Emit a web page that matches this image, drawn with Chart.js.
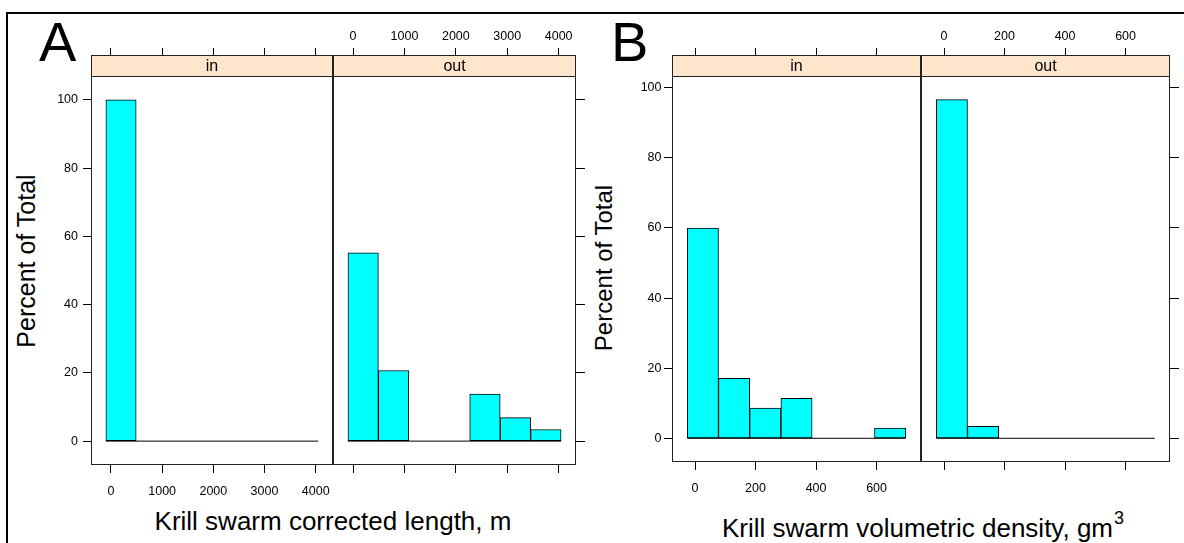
<!DOCTYPE html>
<html>
<head>
<meta charset="utf-8">
<script src="https://cdn.jsdelivr.net/npm/chart.js@4.4.1/dist/chart.umd.min.js"></script>
<style>
  body { margin: 0; background: #fff; font-family: "Liberation Sans", Arial, sans-serif; color: #000; }
  #page { position: relative; width: 1184px; height: 543px; overflow: hidden; }
  canvas { position: absolute; }
  .frame { position: absolute; left: 6px; top: 12px; width: 1300px; height: 700px; border-top: 2px solid #000; border-left: 2px solid #000; }
  .letter { position: absolute; font-size: 56px; line-height: 56px; }
  .xlab { position: absolute; font-size: 26px; line-height: 26px; white-space: nowrap; transform: translateX(-50%); }
  .xlab sup { font-size: 18px; position: relative; top: -13px; vertical-align: baseline; margin-left: 1px; }
  .ylab { position: absolute; white-space: nowrap; transform: translate(-50%, -50%) rotate(-90deg); }
</style>
</head>
<body>
<div id="page">
  <div class="frame"></div>
  <div class="letter" style="left:39px; top:14px;">A</div>
  <div class="letter" style="left:611px; top:14px;">B</div>
  <div class="ylab" style="left:26px; top:261px; font-size:25px;">Percent of Total</div>
  <div class="ylab" style="left:604px; top:268px; font-size:24px;">Percent of Total</div>
  <div class="xlab" style="left:333px; top:508px;">Krill swarm corrected length, m</div>
  <div class="xlab" style="left:923px; top:515px;">Krill swarm volumetric density, gm<sup>3</sup></div>
</div>
<script>
// ----------------------------
// Data (percent of total per bin)
// ----------------------------
const panelNames = ["in", "out"];
const lengthBreaks = [-100, 492.5, 1085, 1677.5, 2270, 2862.5, 3455, 4047.5];
const lengthIn = [100, 0, 0, 0, 0, 0, 0];
const lengthOut = [55.2, 20.7, 0, 0, 13.8, 6.9, 3.4];
const densityBreaks = [-25.5, 77.6, 180.7, 283.8, 386.9, 490, 593.1, 696.2];
const densityIn = [60, 17.1, 8.6, 11.4, 0, 0, 2.9];
const densityOut = [96.6, 3.4, 0, 0, 0, 0, 0];
const lengthTicks = [0, 1000, 2000, 3000, 4000];
const densityTicks = [0, 200, 400, 600];
const percentTicks = [0, 20, 40, 60, 80, 100];

// ----------------------------
// Layout
// ----------------------------
const FONT = '"Liberation Sans", Arial, sans-serif';
const PAD = 0.07;          // lattice axis padding
const TOP_H = 50, BOTTOM_H = 40, LEFT_W = 40, RIGHT_W = 12, STRIP_H = 21;
const tickFont = { family: FONT, size: 12.5 };
const page = document.getElementById("page");

// panel box + strip, drawn over the axis tick marks in the strip zone
const frame = {
  id: "frame",
  afterDraw(chart, args, opts) {
    const { ctx, chartArea: a } = chart;
    ctx.save();
    ctx.fillStyle = "#FFE5CC";
    ctx.fillRect(a.left, a.top - STRIP_H, a.right - a.left, STRIP_H);
    ctx.strokeStyle = "#222";
    ctx.lineWidth = 1;
    ctx.strokeRect(a.left + 0.5, a.top - STRIP_H + 0.5, a.right - a.left - 1, a.bottom - a.top + STRIP_H - 1);
    ctx.beginPath();
    ctx.moveTo(a.left, a.top + 0.5);
    ctx.lineTo(a.right, a.top + 0.5);
    ctx.stroke();
    ctx.fillStyle = "#000";
    ctx.font = "16px " + FONT;
    ctx.textAlign = "center";
    ctx.textBaseline = "middle";
    ctx.fillText(opts.name, (a.left + a.right) / 2, a.top - STRIP_H / 2 + 1);
    ctx.restore();
  }
};

function panel(box, side, name, breaks, pct, xTicks, yTop, leftPad) {
  const canvas = document.createElement("canvas");
  const lw = side === "in" ? LEFT_W : 0;
  const rw = side === "out" ? RIGHT_W : 0;
  canvas.width = box.w + lw + rw;
  canvas.height = box.h + TOP_H + BOTTOM_H;
  canvas.style.left = (box.x - lw) + "px";
  canvas.style.top = (box.y - TOP_H) + "px";
  page.appendChild(canvas);

  const last = breaks[breaks.length - 1];
  const span = last - breaks[0];
  const xMin = breaks[0] - PAD * span, xMax = last + PAD * span;
  const centers = pct.map((_, i) => (breaks[i] + breaks[i + 1]) / 2);
  const setTicks = (vals) => (s) => { s.ticks = vals.map((v) => ({ value: v })); };
  // fixed axis thickness, and no extra room for edge labels
  const fixSize = (prop, size) => (s) => {
    s[prop] = size;
    s.paddingLeft = s.paddingRight = s.paddingTop = s.paddingBottom = 0;
  };
  const tickOpts = (show, padding) => ({
    display: show, padding, font: tickFont, color: "#000",
    maxRotation: 0, autoSkip: false, callback: (v) => String(v),
  });

  new Chart(canvas, {
    type: "bar",
    data: {
      datasets: [
        {
          data: pct.map((p, i) => ({ x: centers[i], y: p })),
          backgroundColor: "#00FFFF",
          borderColor: "#000",
          borderWidth: 1,
          borderSkipped: false,
          barPercentage: 1,
          categoryPercentage: 1,
        },
        {
          type: "line",
          data: [{ x: breaks[0], y: 0 }, { x: last, y: 0 }],
          borderColor: "#000",
          borderWidth: 1,
          pointRadius: 0,
        },
      ],
    },
    options: {
      responsive: false,
      devicePixelRatio: 1,
      animation: false,
      layout: { padding: 0 },
      plugins: { legend: { display: false }, tooltip: { enabled: false }, frame: { name } },
      scales: {
        x: {
          type: "linear", position: "bottom", min: xMin, max: xMax, offset: false,
          afterBuildTicks: setTicks(xTicks),
          afterFit: fixSize("height", BOTTOM_H),
          grid: { offset: false, drawOnChartArea: false, tickLength: 8, color: "#000" },
          border: { display: false },
          ticks: tickOpts(side === "in", 11),
        },
        x2: {
          type: "linear", position: "top", min: xMin, max: xMax, offset: false,
          afterBuildTicks: setTicks(xTicks),
          afterFit: fixSize("height", TOP_H),
          grid: { offset: false, drawOnChartArea: false, tickLength: STRIP_H + 7, color: "#000" },
          border: { display: false },
          ticks: tickOpts(side === "out", 3.5),
        },
        y: {
          type: "linear", position: side === "in" ? "left" : "right",
          min: -PAD * yTop, max: yTop * (1 + PAD),
          afterBuildTicks: setTicks(percentTicks),
          afterFit: fixSize("width", side === "in" ? LEFT_W : RIGHT_W),
          grid: { drawOnChartArea: false, tickLength: side === "in" ? 8 : 9, color: "#000" },
          border: { display: false },
          ticks: tickOpts(side === "in", leftPad),
        },
      },
    },
    plugins: [frame],
  });
}

// ----------------------------
// Figure A: corrected length
// ----------------------------
const topA = Math.max(...lengthIn, ...lengthOut);
panel({ x: 91, y: 76, w: 242, h: 389 }, "in", panelNames[0], lengthBreaks, lengthIn, lengthTicks, topA, 5);
panel({ x: 333, y: 76, w: 243, h: 389 }, "out", panelNames[1], lengthBreaks, lengthOut, lengthTicks, topA, 5);

// ----------------------------
// Figure B: volumetric density
// ----------------------------
const topB = Math.max(...densityIn, ...densityOut);
panel({ x: 672, y: 76, w: 249, h: 386 }, "in", panelNames[0], densityBreaks, densityIn, densityTicks, topB, 2.5);
panel({ x: 921, y: 76, w: 249, h: 386 }, "out", panelNames[1], densityBreaks, densityOut, densityTicks, topB, 2.5);
</script>
</body>
</html>
